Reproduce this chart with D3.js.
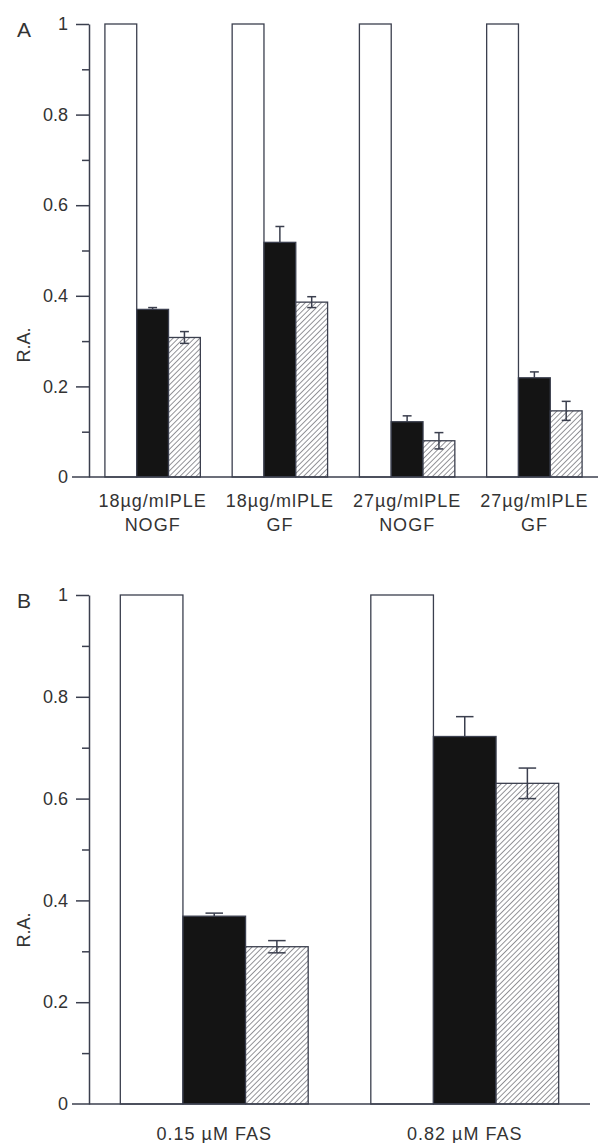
<!DOCTYPE html>
<html lang="en">
  <head>
    <meta charset="utf-8">
    <title>R.A. bars</title>
    <style>
      body { margin: 0; background: #fff; }
      .chart text { font-family: "Liberation Sans", Arial, sans-serif; fill: #333; }
      .axis path, .axis line { stroke: #3b3f4e; stroke-width: 1.5; }
      .axis text { font-size: 18px; }
    </style>
  </head>
  <body>
    <svg class="chart"></svg>

    <script src="https://cdn.jsdelivr.net/npm/d3@7"></script>
    <script type="text/javascript">
    // panel A data
    var groupsA = ["18µg/mlPLE|NOGF", "18µg/mlPLE|GF", "27µg/mlPLE|NOGF", "27µg/mlPLE|GF"];
    var controlA = [1, 1, 1, 1];
    var blackA = [0.370, 0.518, 0.122, 0.219];
    var blackErrA = [0.004, 0.035, 0.013, 0.013];
    var hatchA = [0.308, 0.386, 0.080, 0.146];
    var hatchErrA = [0.013, 0.012, 0.018, 0.021];

    // panel B data
    var groupsB = ["0.15 µM FAS", "0.82 µM FAS"];
    var controlB = [1, 1];
    var blackB = [0.369, 0.722];
    var blackErrB = [0.006, 0.039];
    var hatchB = [0.309, 0.630];
    var hatchErrB = [0.012, 0.030];

    var seriesKeys = ["control", "treated", "treatedHatch"];
    var yTicks = [0, 0.2, 0.4, 0.6, 0.8, 1];
    var yTickLabels = ["0", "0.2", "0.4", "0.6", "0.8", "1"];
    var yMinorTicks = [0.1, 0.3, 0.5, 0.7, 0.9];

    var width = 615, height = 1143;

    var svg = d3.select(".chart")
        .attr("width", width)
        .attr("height", height);

    var defs = svg.append("defs");
    var pat = defs.append("pattern")
        .attr("id", "hatch")
        .attr("patternUnits", "userSpaceOnUse")
        .attr("width", 3.8)
        .attr("height", 3.8)
        .attr("patternTransform", "rotate(45)");
    pat.append("rect").attr("width", 3.8).attr("height", 3.8).attr("fill", "#fff");
    pat.append("line")
        .attr("x1", 0).attr("y1", 0).attr("x2", 0).attr("y2", 3.8)
        .attr("stroke", "#3d3d45").attr("stroke-width", 1.1);

    function drawPanel(opt) {
      var g = svg.append("g");

      var x0 = d3.scaleBand()
          .domain(opt.groups)
          .range([opt.left, opt.right])
          .paddingInner(0.25)
          .paddingOuter(0.125);
      var x1 = d3.scaleBand()
          .domain(seriesKeys)
          .range([0, x0.bandwidth()]);
      var y = d3.scaleLinear().domain([0, 1]).range([opt.bottom, opt.top]);

      var rows = opt.groups.map(function(gr, i) {
        return [
          {group: gr, key: "control", value: opt.control[i], err: 0},
          {group: gr, key: "treated", value: opt.black[i], err: opt.blackErr[i]},
          {group: gr, key: "treatedHatch", value: opt.hatch[i], err: opt.hatchErr[i]}
        ];
      });
      var flat = d3.merge(rows);

      // y axis: major + minor ticks
      g.append("g")
          .attr("class", "y axis")
          .attr("transform", "translate(" + opt.left + ",0)")
          .call(d3.axisLeft(y).tickValues(yTicks.slice(1)).tickSize(13).tickSizeOuter(0).tickPadding(8)
            .tickFormat(function(d) { return yTickLabels[yTicks.indexOf(d)]; }));
      g.append("g")
          .attr("class", "y axis minor")
          .attr("transform", "translate(" + opt.left + ",0)")
          .call(d3.axisLeft(y).tickValues(yMinorTicks).tickSize(7).tickFormat(""))
          .select(".domain").remove();

      // zero label + baseline
      g.append("text")
          .attr("x", opt.left - 21)
          .attr("y", y(0))
          .attr("dy", "0.35em")
          .attr("text-anchor", "end")
          .style("font-size", "18px")
          .text(yTickLabels[0]);

      g.selectAll(".bar")
          .data(flat)
          .enter().append("rect")
            .attr("class", "bar")
            .attr("x", function(d) { return x0(d.group) + x1(d.key); })
            .attr("y", function(d) { return y(d.value); })
            .attr("width", x1.bandwidth())
            .attr("height", function(d) { return y(0) - y(d.value); })
            .attr("fill", function(d) {
              return d.key == "control" ? "#fff" : d.key == "treated" ? "#141414" : "url(#hatch)";
            })
            .attr("stroke", "#3b3f4e")
            .attr("stroke-width", 1.3);

      var capW = x1.bandwidth() * 0.28;
      var errs = flat.filter(function(d) { return d.err > 0; });
      var eg = g.selectAll(".err")
          .data(errs)
          .enter().append("g")
            .attr("class", "err")
            .attr("transform", function(d) {
              return "translate(" + (x0(d.group) + x1(d.key) + x1.bandwidth() / 2) + ",0)";
            })
            .attr("stroke", "#3b3f4e")
            .attr("stroke-width", 1.5);
      eg.append("line")
          .attr("y1", function(d) { return y(d.key == "treated" ? d.value : d.value - d.err); })
          .attr("y2", function(d) { return y(d.value + d.err); });
      eg.append("line")
          .attr("x1", -capW / 2).attr("x2", capW / 2)
          .attr("y1", function(d) { return y(d.value + d.err); })
          .attr("y2", function(d) { return y(d.value + d.err); });
      eg.filter(function(d) { return d.key == "treatedHatch"; })
        .append("line")
          .attr("x1", -capW / 2).attr("x2", capW / 2)
          .attr("y1", function(d) { return y(d.value - d.err); })
          .attr("y2", function(d) { return y(d.value - d.err); });

      g.append("line")
          .attr("x1", opt.left - 17)
          .attr("x2", opt.right)
          .attr("y1", y(0))
          .attr("y2", y(0))
          .attr("stroke", "#3b3f4e")
          .attr("stroke-width", 1.5);

      // category labels
      var lab = g.selectAll(".xlab")
          .data(opt.groups)
          .enter().append("text")
            .attr("class", "xlab")
            .attr("text-anchor", "middle")
            .style("font-size", "18px")
            .style("letter-spacing", "1px")
            .attr("transform", function(d) {
              return "translate(" + (x0(d) + x0.bandwidth() / 2) + "," + opt.labelY + ")";
            });
      lab.selectAll("tspan")
          .data(function(d) { return d.split("|"); })
          .enter().append("tspan")
            .attr("x", 0)
            .attr("y", function(d, i) { return i * 24; })
            .text(function(d) { return d; });

      g.append("text")
          .attr("transform", "translate(30," + opt.raY + ") rotate(-90)")
          .attr("text-anchor", "middle")
          .style("font-size", "18px")
          .text("R.A.");

      g.append("text")
          .attr("x", 17)
          .attr("y", opt.top + opt.letterDy)
          .style("font-size", "21px")
          .text(opt.letter);
    }

    drawPanel({
      groups: groupsA, control: controlA, black: blackA, blackErr: blackErrA,
      hatch: hatchA, hatchErr: hatchErrA,
      left: 89, right: 598, top: 24, bottom: 477,
      labelY: 507, raY: 345, letter: "A", letterDy: 13
    });

    drawPanel({
      groups: groupsB, control: controlB, black: blackB, blackErr: blackErrB,
      hatch: hatchB, hatchErr: hatchErrB,
      left: 89, right: 590, top: 595, bottom: 1104,
      labelY: 1140, raY: 930, letter: "B", letterDy: 13
    });
    </script>
  </body>
</html>
